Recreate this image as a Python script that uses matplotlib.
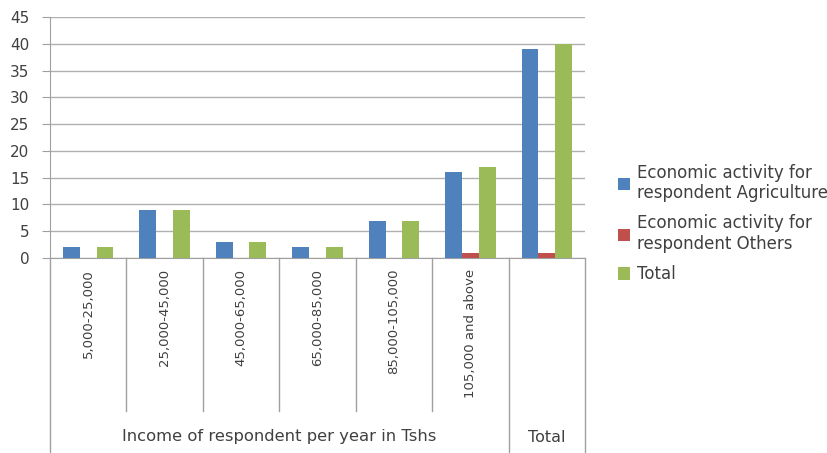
import matplotlib
matplotlib.use("Agg")
import matplotlib.pyplot as plt
import numpy as np

plt.rcParams['font.family'] = ['DejaVu Sans']

categories = ["5,000-25,000", "25,000-45,000", "45,000-65,000", "65,000-85,000",
              "85,000-105,000", "105,000 and above", ""]
agriculture = [2, 9, 3, 2, 7, 16, 39]
others = [0, 0, 0, 0, 0, 1, 1]
total = [2, 9, 3, 2, 7, 17, 40]
series_names = ["Economic activity for\nrespondent Agriculture",
                "Economic activity for\nrespondent Others",
                "Total"]
colors = ["#4F81BD", "#C0504D", "#9BBB59"]
group_label = "Income of respondent per year in Tshs"
total_label = "Total"

W, H = 828, 453
fig = plt.figure(figsize=(W / 100, H / 100), dpi=100)
left, right, top, bottom = 50, 585, 17, 258
ax = fig.add_axes([left / W, 1 - bottom / H, (right - left) / W, (bottom - top) / H])

n = len(categories)
x = np.arange(n)
bw = 0.22
for i, (vals, c, name) in enumerate(zip([agriculture, others, total], colors, series_names)):
    ax.bar(x + (i - 1) * bw, vals, width=bw, color=c, label=name, zorder=3)

ax.set_xlim(-0.5, n - 0.5)
ax.set_ylim(0, 45)
ax.set_yticks(np.arange(0, 46, 5))
ax.yaxis.grid(True, color="#B0B0B0", linewidth=1.0, zorder=0)
ax.set_xticks([])
for s in ["top", "right"]:
    ax.spines[s].set_visible(False)
for s in ["left", "bottom"]:
    ax.spines[s].set_color("#A0A0A0")
ax.tick_params(axis="y", colors="#A0A0A0", labelcolor="#404040", labelsize=11,
               length=6, pad=9)

# category labels, rotated, below the axis
ah = bottom - top
trans = ax.get_xaxis_transform()
for xi, lab in zip(x, categories):
    if lab:
        ax.text(xi, -11 / ah, lab, transform=trans,
                rotation=90, ha="center", va="top", fontsize=9.5, color="#404040")

# separators under the axis
for b in np.arange(-0.5, n - 0.4, 1.0):
    if b in (-0.5, n - 1.5, n - 0.5):
        y0 = -(H - bottom) / ah
    else:
        y0 = -(411 - bottom) / ah
    ax.plot([b, b], [0, y0], transform=trans, color="#A0A0A0", linewidth=1.0,
            clip_on=False)

# group label centred under the income brackets, then the Total column label
group_center = (n - 1) / 2 - 0.5
ax.text(group_center, -(437 - bottom) / ah, group_label, transform=trans,
        ha="center", va="center", fontsize=11.8, color="#404040")
ax.text(n - 1, -(437 - bottom) / ah, total_label, transform=trans,
        ha="center", va="center", fontsize=11.5, color="#404040")

leg = fig.legend(loc="upper left", bbox_to_anchor=(611 / W, 1 - 157 / H), frameon=False,
                 fontsize=12, handlelength=0.75, handleheight=0.75, handletextpad=0.4,
                 labelspacing=0.72, labelcolor="#404040", borderaxespad=0)
for t in leg.get_texts():
    t.set_linespacing(1.2)

fig.savefig("out.png", dpi=100)
